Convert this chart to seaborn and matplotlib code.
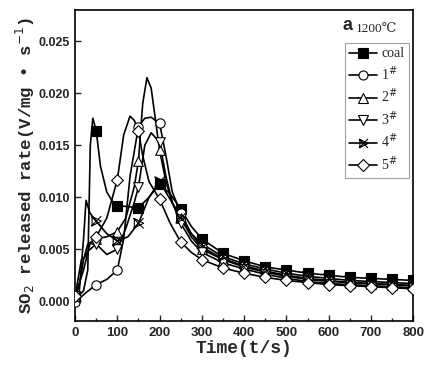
import numpy as np
import pandas as pd
import matplotlib
matplotlib.use('Agg')
import matplotlib.pyplot as plt
import seaborn as sns
from matplotlib.path import Path
from matplotlib.lines import Line2D

# curve points (t in s, rate in V/mg*s)
tail_t = [350, 400, 450, 500, 550, 600, 650, 700, 750, 800]

coal_t = [0, 10, 20, 30, 36, 42, 50, 60, 75, 90, 100, 125, 150, 175, 200, 225, 250, 275, 300]
coal_v = [.0005, .0006, .0010, .0030, .0150, .0176, .0164, .0130, .0105, .0095, .0092, .0091, .0090, .0100, .0113, .0103, .0089, .0072, .0060]
coal_tail = [.0046, .0039, .0033, .0030, .0027, .0025, .0023, .0022, .0021, .0020]

s1_t = [0, 25, 50, 75, 100, 115, 130, 150, 165, 180, 200, 215, 230, 250, 275, 300]
s1_v = [-.0001, .0008, .0016, .0021, .0030, .0060, .0120, .0168, .0176, .0177, .0171, .0140, .0105, .0085, .0065, .0052]
s1_tail = [.0041, .0034, .0029, .0025, .0022, .0020, .0018, .0017, .0016, .0015]

s2_t = [0, 10, 20, 30, 50, 75, 100, 120, 140, 150, 160, 170, 180, 190, 200, 215, 230, 250, 275, 300]
s2_v = [.0005, .0015, .0040, .0055, .0060, .0062, .0067, .0080, .0110, .0135, .0190, .0215, .0205, .0175, .0145, .0115, .0095, .0080, .0062, .0050]
s2_tail = [.0040, .0033, .0028, .0024, .0021, .0019, .0018, .0017, .0016, .0015]

s3_t = [0, 15, 22, 30, 50, 75, 100, 120, 140, 150, 165, 180, 200, 215, 230, 250, 275, 300]
s3_v = [.0005, .0040, .0042, .0048, .0055, .0045, .0050, .0070, .0095, .0110, .0150, .0162, .0153, .0120, .0095, .0075, .0058, .0047]
s3_tail = [.0037, .0031, .0026, .0022, .0019, .0017, .0016, .0015, .0014, .0013]

s4_t = [0, 10, 20, 26, 35, 50, 75, 100, 125, 150, 175, 200, 225, 250, 275, 300]
s4_v = [.0003, .0010, .0060, .0097, .0085, .0077, .0065, .0058, .0062, .0075, .0100, .0115, .0098, .0080, .0065, .0055]
s4_tail = [.0043, .0036, .0031, .0027, .0024, .0022, .0020, .0019, .0018, .0017]

s5_t = [0, 20, 35, 50, 75, 100, 115, 130, 140, 150, 160, 175, 200, 225, 250, 275, 300]
s5_v = [.0005, .0030, .0055, .0062, .0080, .0117, .0160, .0178, .0174, .0164, .0140, .0115, .0098, .0075, .0057, .0047, .0040]
s5_tail = [.0032, .0027, .0023, .0020, .0018, .0016, .0015, .0014, .0013, .0012]

labels = ['coal', '1$^{\\#}$', '2$^{\\#}$', '3$^{\\#}$', '4$^{\\#}$', '5$^{\\#}$']
series = [(coal_t, coal_v, coal_tail), (s1_t, s1_v, s1_tail), (s2_t, s2_v, s2_tail),
          (s3_t, s3_v, s3_tail), (s4_t, s4_v, s4_tail), (s5_t, s5_v, s5_tail)]

# X crossed with a right-pointing triangle for 4#
xtri = Path([(-1, -1), (1, 1), (-1, 1), (1, -1), (-0.8, 0.9), (1.0, 0), (-0.8, -0.9), (-0.8, 0.9)],
            [Path.MOVETO, Path.LINETO, Path.MOVETO, Path.LINETO, Path.MOVETO, Path.LINETO, Path.LINETO, Path.LINETO])
markers = ['s', 'o', '^', 'v', xtri, 'D']
msizes = [42, 45, 48, 48, 55, 36]
faces = ['black', 'white', 'white', 'white', 'none', 'white']

rows = []
for lab, (t, v, tail) in zip(labels, series):
    for ti, vi in zip(list(t) + tail_t, list(v) + tail):
        rows.append((lab, ti, vi))
df = pd.DataFrame(rows, columns=['sample', 't', 'rate'])

sns.set_style('ticks')
fig = plt.figure(figsize=(4.34, 3.75), dpi=100)
ax = fig.add_axes([0.173, 0.144, 0.779, 0.829])

for i, lab in enumerate(labels):
    d = df[df['sample'] == lab]
    sns.lineplot(data=d, x='t', y='rate', color='black', lw=1.2, sort=False, ax=ax, legend=False)
    m = d[d['t'] % 50 == 0]
    sns.scatterplot(data=m, x='t', y='rate', marker=markers[i], s=msizes[i], color=faces[i],
                    edgecolor='black', linewidth=0.8, ax=ax, legend=False, zorder=3)

ax.set_xlim(0, 800)
ax.set_ylim(-0.0019, 0.028)
ax.set_xticks(np.arange(0, 801, 100))
ax.set_xticks(np.arange(50, 800, 100), minor=True)
ax.set_yticks([0, 0.005, 0.010, 0.015, 0.020, 0.025])
ax.set_yticklabels(['0.000', '0.005', '0.010', '0.015', '0.020', '0.025'])
ax.tick_params(direction='in', length=4, width=1, labelsize=9)
ax.tick_params(which='minor', direction='in', length=2.5, width=1)
ax.tick_params(axis='x', labelsize=9.5, pad=4)
for lb in ax.get_xticklabels() + ax.get_yticklabels():
    lb.set_fontfamily('Liberation Sans')
    lb.set_fontweight('bold')
for sp in ax.spines.values():
    sp.set_linewidth(1.2)
    sp.set_color('black')

ax.set_xlabel('Time(t/s)', fontfamily='Liberation Mono', fontweight='bold', fontsize=13, labelpad=1)
ax.set_ylabel('SO$_2$ released rate(V/mg \u2022 s$^{-1}$)', fontfamily='Liberation Mono',
              fontweight='bold', fontsize=12.5, labelpad=1)

ax.text(0.79, 0.935, 'a', transform=ax.transAxes, fontsize=13, fontweight='bold', fontfamily='Liberation Sans')
ax.text(0.83, 0.93, '1200\u2103', transform=ax.transAxes, fontsize=9.5,
        fontfamily=['Liberation Serif', 'DejaVu Serif'])

handles = []
for i, lab in enumerate(labels):
    handles.append(Line2D([], [], color='black', lw=1.2, marker=markers[i], markersize=6.5,
                          markerfacecolor=faces[i], markeredgecolor='black', markeredgewidth=0.8))
leg = ax.legend(handles, labels, loc='upper right', bbox_to_anchor=(0.993, 0.9), frameon=True,
                fancybox=False, edgecolor='#888888', handlelength=2.0, handletextpad=0.3,
                labelspacing=0.28, borderpad=0.35, borderaxespad=0.1, prop={'family': 'Liberation Serif', 'size': 10})
leg.get_frame().set_linewidth(0.8)

fig.savefig('out.png', dpi=100)
